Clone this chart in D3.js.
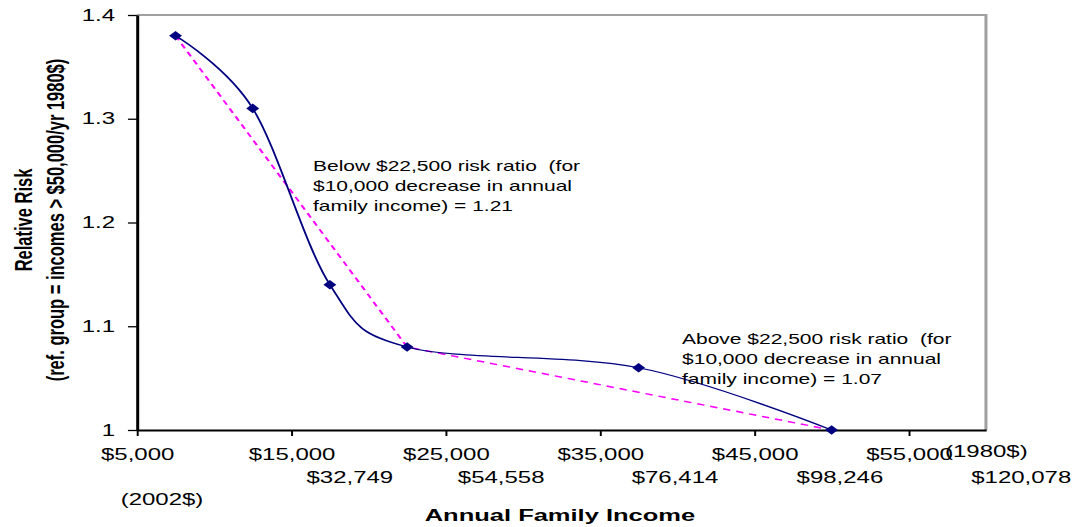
<!DOCTYPE html>
<html>
<head>
<meta charset="utf-8">
<script src="https://cdn.jsdelivr.net/npm/d3@7"></script>
<style>
  html, body { margin: 0; padding: 0; background: #fff; overflow: hidden; }
  svg { display: block; }
  text { font-family: "Liberation Sans", Arial, sans-serif; fill: #000; }
</style>
</head>
<body>
<svg id="chart"></svg>
<script>
// ---- data ----
const incomes1980 = [7500, 12500, 17500, 22500, 37500, 50000];
const relativeRisk = [1.38, 1.31, 1.14, 1.08, 1.06, 1.00];
const fitIncomes = [7500, 22500, 50000];
const fitRisk = [1.38, 1.08, 1.00];
const xTicks = [5000, 15000, 25000, 35000, 45000, 55000];
const xTickLabels = ["$5,000", "$15,000", "$25,000", "$35,000", "$45,000", "$55,000"];
const x2002Ticks = [15000, 25000, 35000, 45000, 55000];
const x2002Labels = ["$32,749", "$54,558", "$76,414", "$98,246", "$120,078"];
const yTicks = [1, 1.1, 1.2, 1.3, 1.4];
const yTickLabels = ["1", "1.1", "1.2", "1.3", "1.4"];
const noteBelow = ["Below $22,500 risk ratio  (for", "$10,000 decrease in annual", "family income) = 1.21"];
const noteAbove = ["Above $22,500 risk ratio  (for", "$10,000 decrease in annual", "family income) = 1.07"];

(function () {
// ---- layout (picture is stretched 1.5x horizontally) ----
const W = 1075, H = 527, SX = 1.5;
const VW = W / SX;
const pLeft = 91.3, pRight = 657.3, pTop = 15, pBottom = 430;
const x2002Offset = [39, 37, 50, 57, 75];

const svg = d3.select("#chart")
  .attr("width", W).attr("height", H)
  .attr("viewBox", `0 0 ${VW} ${H}`)
  .attr("preserveAspectRatio", "none");

const x = d3.scaleLinear().domain([5000, 60000]).range([pLeft, pRight]);
const y = d3.scaleLinear().domain([1, 1.4]).range([pBottom, pTop]);

// plot frame (top/right grey)
svg.append("path")
  .attr("d", `M${pLeft},${pTop}H${pRight}V${pBottom}`)
  .attr("fill", "none").attr("stroke", "#a0a0a0").attr("stroke-width", 2);

// axes
const xAxis = d3.axisBottom(x).tickValues(xTicks)
  .tickFormat((d, i) => xTickLabels[i]).tickSize(6).tickSizeOuter(0).tickPadding(12.6);
const gx = svg.append("g").attr("transform", `translate(0,${pBottom})`).call(xAxis);
gx.select(".domain").attr("stroke", "#000").attr("stroke-width", 2);
gx.selectAll(".tick line").attr("stroke", "#000").attr("stroke-width", 1.3);
gx.selectAll(".tick text").attr("font-size", 16).attr("font-family", "Liberation Sans, Arial, sans-serif");

const yAxis = d3.axisLeft(y).tickValues(yTicks)
  .tickFormat((d, i) => yTickLabels[i]).tickSize(6).tickSizeOuter(0).tickPadding(8.6);
const gy = svg.append("g").attr("transform", `translate(${pLeft},0)`).call(yAxis);
gy.select(".domain").attr("stroke", "#000").attr("stroke-width", 2);
gy.selectAll(".tick line").attr("stroke", "#000").attr("stroke-width", 1.3);
gy.selectAll(".tick text").attr("font-size", 16).attr("font-family", "Liberation Sans, Arial, sans-serif");

// 2002$ equivalents row
svg.append("g").selectAll("text").data(x2002Labels).join("text")
  .attr("x", (d, i) => x(x2002Ticks[i]) + x2002Offset[i])
  .attr("y", 483)
  .attr("text-anchor", "middle").attr("font-size", 16)
  .text(d => d);

svg.append("text").attr("x", 108).attr("y", 505).attr("text-anchor", "middle")
  .attr("font-size", 16).text("(2002$)");
svg.append("text").attr("x", 630).attr("y", 457).attr("text-anchor", "start")
  .attr("font-size", 16).text("(1980$)");

// axis titles
svg.append("text").attr("x", 373.3).attr("y", 521).attr("text-anchor", "middle")
  .attr("font-size", 17).attr("font-weight", "bold").text("Annual Family Income");

const yt = svg.append("g").attr("transform", "translate(0,220) rotate(-90)");
yt.append("text").attr("x", 0).attr("y", 21.3).attr("text-anchor", "middle")
  .attr("font-size", 16.5).attr("font-weight", "bold").text("Relative Risk");
yt.append("text").attr("x", 0).attr("y", 42.7).attr("text-anchor", "middle")
  .attr("font-size", 16.5).attr("font-weight", "bold").text("(ref. group = incomes > $50,000/yr 1980$)");

// fitted piecewise line (dashed magenta)
const fitLine = d3.line().x(d => x(d[0])).y(d => y(d[1]));
svg.append("path")
  .attr("d", fitLine(fitIncomes.map((v, i) => [v, fitRisk[i]])))
  .attr("fill", "none").attr("stroke", "#ff00ff").attr("stroke-width", 1.5)
  .attr("stroke-dasharray", "5,4");

// smoothed observed line
const smooth = d3.line().x(d => x(d[0])).y(d => y(d[1])).curve(d3.curveCardinal.tension(0));
const pts = incomes1980.map((v, i) => [v, relativeRisk[i]]);
svg.append("path").attr("d", smooth(pts))
  .attr("fill", "none").attr("stroke", "#000080").attr("stroke-width", 1.3);

// diamond markers
svg.append("g").selectAll("path").data(pts).join("path")
  .attr("transform", d => `translate(${x(d[0])},${y(d[1])})`)
  .attr("d", "M0,-4.8L4.3,0L0,4.8L-4.3,0Z")
  .attr("fill", "#000080");

// annotations
svg.append("g").selectAll("text").data(noteBelow).join("text")
  .attr("x", 208.7).attr("y", (d, i) => 171 + i * 20)
  .attr("font-size", 14).style("white-space", "pre").text(d => d);
svg.append("g").selectAll("text").data(noteAbove).join("text")
  .attr("x", 454.7).attr("y", (d, i) => 344 + i * 20)
  .attr("font-size", 14).style("white-space", "pre").text(d => d);
})();
</script>
</body>
</html>
